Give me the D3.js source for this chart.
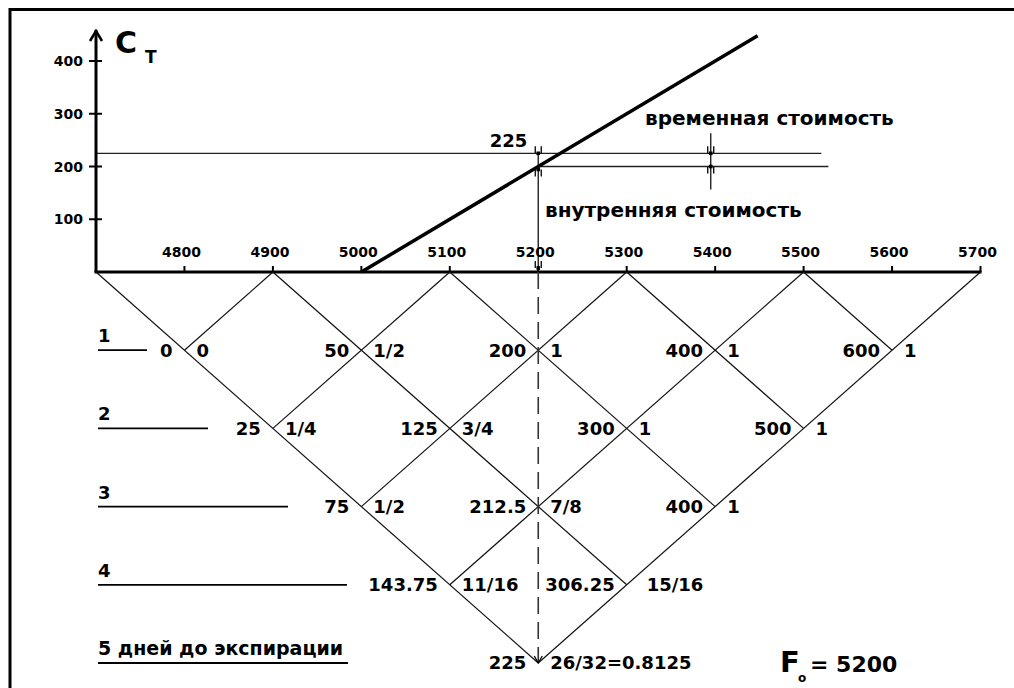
<!DOCTYPE html>
<html>
<head>
<meta charset="utf-8">
<script src="https://cdn.jsdelivr.net/npm/d3@7"></script>
<style>
  body { margin: 0; background: #fff; }
  text { font-family: "DejaVu Sans", sans-serif; font-weight: bold; fill: #000; }
</style>
</head>
<body>
<script>
// data
var priceTicks = [4800, 4900, 5000, 5100, 5200, 5300, 5400, 5500, 5600, 5700];
var costTicks = [100, 200, 300, 400];
var strike = 5000;
var futuresPrice = 5200;   // F0
var optionValue = 225;     // value of the call today
var intrinsic = 200;
var payoffEnd = 5448;

// binomial tree (price grid on axis, then each day)
var topPrices = [4700, 4900, 5100, 5300, 5500, 5700];
var nodePrices = [
  [4800, 5000, 5200, 5400, 5600],
  [4900, 5100, 5300, 5500],
  [5000, 5200, 5400],
  [5100, 5300],
  [5200]
];
var nodeValues = [
  ["0", "50", "200", "400", "600"],
  ["25", "125", "300", "500"],
  ["75", "212.5", "400"],
  ["143.75", "306.25"],
  ["225"]
];
var nodeDeltas = [
  ["0", "1/2", "1", "1", "1"],
  ["1/4", "3/4", "1", "1"],
  ["1/2", "7/8", "1"],
  ["11/16", "15/16"],
  ["26/32=0.8125"]
];
var dayLabels = ["1", "2", "3", "4", "5 дней до экспирации"];

// layout
var ruleEnd = [147, 208, 288, 347, 348];
var lineEndHigh = 5520, lineEndLow = 5528;

var svg = d3.select("body").append("svg")
  .attr("width", 1014)
  .attr("height", 688);

var x = d3.scaleLinear().domain([4700, 5700]).range([96, 980.5]);
var y = d3.scaleLinear().domain([0, 400]).range([272, 61]);
var row = d3.scaleLinear().domain([0, 5]).range([272, 663]);

// frame
svg.append("rect")
  .attr("x", 10).attr("y", 9.5).attr("width", 1020).attr("height", 700)
  .style("fill", "none").style("stroke", "#000").style("stroke-width", 3);

// small arrow tip: square at tip, two short wings
function tip(cx, cy, dir){ // dir = -1 wings above (points down), 1 wings below (points up)
  svg.append("rect").attr("x", cx - 1.8).attr("y", cy - 1.8).attr("width", 3.6).attr("height", 3.6)
    .style("fill", "#000");
  [-3, 3].forEach(function(o){
    svg.append("line")
      .attr("x1", cx + o).attr("y1", cy)
      .attr("x2", cx + o).attr("y2", cy + dir * 7)
      .style("stroke", "#000").style("stroke-width", 1.3);
  });
}

// horizontal lines at 225 and 200
svg.append("line")
  .attr("x1", x(4700)).attr("x2", x(lineEndHigh))
  .attr("y1", y(optionValue)).attr("y2", y(optionValue))
  .style("stroke", "#222").style("stroke-width", 1.3);
svg.append("line")
  .attr("x1", x(futuresPrice)).attr("x2", x(lineEndLow))
  .attr("y1", y(intrinsic)).attr("y2", y(intrinsic))
  .style("stroke", "#222").style("stroke-width", 1.3);

// vertical at F0 (solid above axis)
svg.append("line")
  .attr("x1", x(futuresPrice)).attr("x2", x(futuresPrice))
  .attr("y1", y(optionValue)).attr("y2", y(0))
  .style("stroke", "#222").style("stroke-width", 1.4);
tip(x(futuresPrice), y(optionValue), -1);
tip(x(futuresPrice), y(intrinsic) + 3, 1);
tip(x(futuresPrice), y(0) - 4, -1);

// time value marker
var tvX = x(5395);
svg.append("line")
  .attr("x1", tvX).attr("x2", tvX)
  .attr("y1", y(optionValue) - 20).attr("y2", y(intrinsic) + 23)
  .style("stroke", "#222").style("stroke-width", 1.4);
tip(tvX, y(optionValue), -1);
tip(tvX, y(intrinsic), 1);

// payoff line
svg.append("line")
  .attr("x1", x(strike)).attr("y1", y(0))
  .attr("x2", x(payoffEnd)).attr("y2", y(payoffEnd - strike))
  .style("stroke", "#000").style("stroke-width", 3.5);

// y axis with arrow
svg.append("line")
  .attr("x1", x(4700)).attr("x2", x(4700))
  .attr("y1", y(0)).attr("y2", 30)
  .style("stroke", "#000").style("stroke-width", 3);
svg.append("path")
  .attr("d", "M" + (x(4700) - 6) + ",41 L" + x(4700) + ",31 L" + (x(4700) + 6) + ",41")
  .style("fill", "none").style("stroke", "#000").style("stroke-width", 2.5);

svg.selectAll(".ytick").data(costTicks).enter().append("line")
  .attr("x1", x(4700) - 7).attr("x2", x(4700) + 6)
  .attr("y1", function(d){ return y(d); }).attr("y2", function(d){ return y(d); })
  .style("stroke", "#000").style("stroke-width", 2);
svg.selectAll(".ylab").data(costTicks).enter().append("text")
  .attr("x", 83).attr("y", function(d){ return y(d) + 5; })
  .attr("text-anchor", "end").style("font-size", "14px")
  .text(function(d){ return d; });

// x axis
svg.append("line")
  .attr("x1", x(4700) - 1.5).attr("x2", x(5700) + 1)
  .attr("y1", y(0)).attr("y2", y(0))
  .style("stroke", "#000").style("stroke-width", 3);
svg.selectAll(".xtick").data(priceTicks).enter().append("line")
  .attr("x1", function(d){ return x(d); }).attr("x2", function(d){ return x(d); })
  .attr("y1", y(0) - 6).attr("y2", y(0))
  .style("stroke", "#000").style("stroke-width", 2);
svg.selectAll(".xlab").data(priceTicks).enter().append("text")
  .attr("x", function(d){ return x(d) - 3; }).attr("y", 257)
  .attr("text-anchor", "middle").style("font-size", "14px")
  .text(function(d){ return d; });

// axis title C_T
svg.append("text").attr("x", 115).attr("y", 53).style("font-size", "30px").text("C");
svg.append("text").attr("x", 145).attr("y", 63).style("font-size", "17px").text("Т");

// annotations
svg.append("text").attr("x", x(futuresPrice) - 11).attr("y", 147)
  .attr("text-anchor", "end").style("font-size", "18px")
  .text(optionValue);
svg.append("text").attr("x", 645).attr("y", 125).style("font-size", "20px")
  .text("временная стоимость");
svg.append("text").attr("x", 545).attr("y", 217).style("font-size", "20px")
  .text("внутренняя стоимость");

// tree lines
var treeLines = [];
topPrices.forEach(function(p){
  if (p < 5700) {
    var k = (5700 - p) / 200;
    treeLines.push([p, 0, p + 100 * k, k]);
  }
  if (p > 4700) {
    var k2 = (p - 4700) / 200;
    treeLines.push([p, 0, p - 100 * k2, k2]);
  }
});
svg.selectAll(".tree").data(treeLines).enter().append("line")
  .attr("x1", function(d){ return x(d[0]); })
  .attr("y1", function(d){ return row(d[1]); })
  .attr("x2", function(d){ return x(d[2]); })
  .attr("y2", function(d){ return row(d[3]); })
  .style("stroke", "#111").style("stroke-width", 1.2);

// dashed vertical at F0
svg.append("line")
  .attr("x1", x(futuresPrice)).attr("x2", x(futuresPrice))
  .attr("y1", y(0)).attr("y2", row(5))
  .style("stroke", "#333").style("stroke-width", 1.6)
  .style("stroke-dasharray", "17,8");
svg.append("path")
  .attr("d", "M" + (x(futuresPrice) - 4) + "," + (row(5) - 7) + " L" + x(futuresPrice) + "," + row(5) +
    " L" + (x(futuresPrice) + 4) + "," + (row(5) - 7))
  .style("fill", "none").style("stroke", "#000").style("stroke-width", 1.3);

// node labels
nodePrices.forEach(function(prices, i){
  var k = i + 1;
  svg.selectAll(".val" + k).data(prices).enter().append("text")
    .attr("x", function(d){ return x(d) - 12; })
    .attr("y", row(k)).attr("dy", "0.36em")
    .attr("text-anchor", "end").style("font-size", "18px")
    .text(function(d, j){ return nodeValues[i][j]; });
  svg.selectAll(".del" + k).data(prices).enter().append("text")
    .attr("x", function(d, j){ return x(d) + (nodeDeltas[i][j] === "15/16" ? 20 : 12); })
    .attr("y", row(k)).attr("dy", "0.36em")
    .style("font-size", "18px")
    .text(function(d, j){ return nodeDeltas[i][j]; });
});

// day labels with rules
dayLabels.forEach(function(lab, i){
  var k = i + 1;
  svg.append("text").attr("x", 98).attr("y", row(k) - 8)
    .style("font-size", k === 5 ? "19px" : "18px").text(lab);
  svg.append("line")
    .attr("x1", 98).attr("x2", ruleEnd[i])
    .attr("y1", row(k)).attr("y2", row(k))
    .style("stroke", "#000").style("stroke-width", 1.8);
});

// F0 = 5200
svg.append("text").attr("x", 780).attr("y", 672).style("font-size", "29px").text("F");
svg.append("text").attr("x", 798).attr("y", 682).style("font-size", "12px").text("o");
svg.append("text").attr("x", 810).attr("y", 672).style("font-size", "22px").text("= " + futuresPrice);
</script>
</body>
</html>
